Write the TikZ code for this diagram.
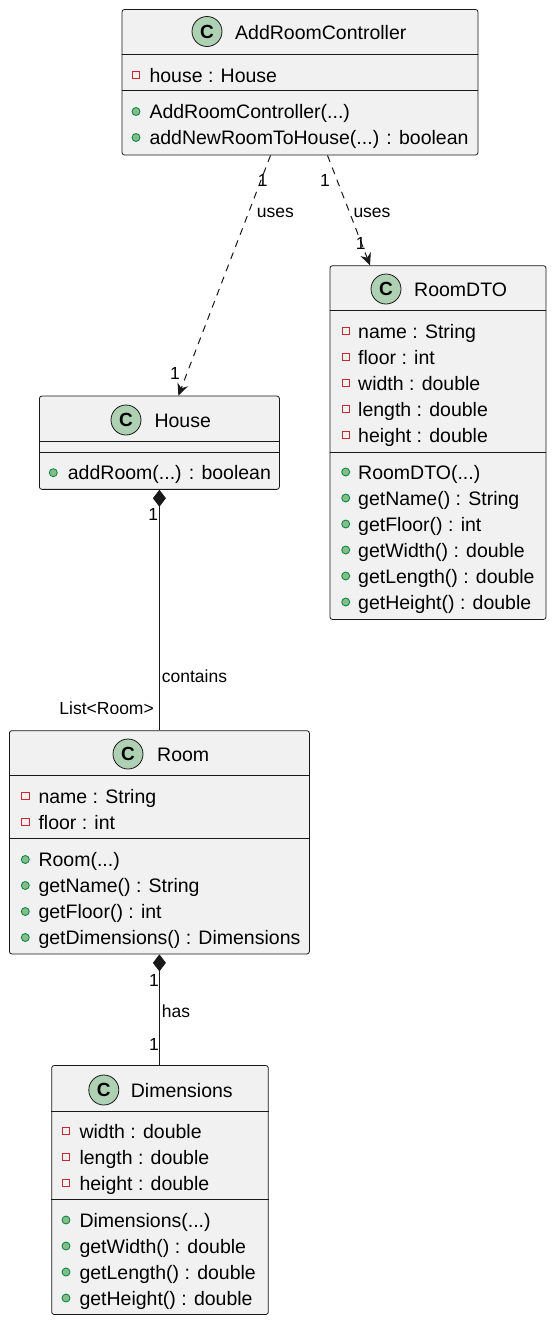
\documentclass[tikz,border=0pt]{standalone}
\usepackage{fontspec}
\setmainfont{Liberation Sans}
\usepackage{xcolor}
\usetikzlibrary{arrows.meta, calc, positioning}

\definecolor{boxfill}{HTML}{F1F1F1}
\definecolor{boxline}{HTML}{181818}
\definecolor{circfill}{HTML}{ADD1B2}
\definecolor{privred}{HTML}{C82930}
\definecolor{pubfill}{HTML}{84BE84}
\definecolor{publine}{HTML}{038048}

\newcommand{\membfont}{\fontsize{19.5}{23}\selectfont}
\newcommand{\lblfont}{\fontsize{17.5}{21}\selectfont}

\tikzset{
    classbox/.style={rectangle, draw=boxline, fill=boxfill, line width=0.8pt, rounded corners=2.5pt, inner sep=0pt},
    cicon/.style={circle, draw=boxline, fill=circfill, line width=0.8pt, minimum size=30pt, inner sep=0pt, font=\fontsize{19}{19}\selectfont\bfseries},
    member/.style={anchor=base west, inner sep=0pt, font=\membfont, text=black},
    priv/.style={rectangle, draw=privred, fill=boxfill, line width=0.8pt, minimum size=7.5pt, inner sep=0pt},
    pub/.style={circle, draw=publine, fill=pubfill, line width=0.8pt, minimum size=8pt, inner sep=0pt},
    lbl/.style={anchor=base, inner sep=0pt, font=\lblfont},
    sepline/.style={draw=boxline, line width=0.8pt},
    dep/.style={draw=boxline, line width=1pt, dash pattern=on 7pt off 6pt, -{Stealth[length=12pt, width=11pt, inset=4pt]}},
    comp/.style={draw=boxline, line width=1pt, {Diamond[length=17pt, width=13pt]}-}
}

\begin{document}
\begin{tikzpicture}[x=1pt, y=-1pt]
    \useasboundingbox (0,0) rectangle (555,1323);

    % AddRoomController
    \node[classbox, minimum width=356pt, minimum height=145.5pt] (arc) at (300,82.25) {};
    \node[cicon] (arcC) at (207,31.5) {C};
    \node[member] (arcT) at (235,39) {AddRoomController};
    \draw[sepline] (arc.west |- 0,54) -- (arc.east |- 0,54);
    \draw[sepline] (arc.west |- 0,90.7) -- (arc.east |- 0,90.7);
    \node[priv] (arcI1) at (136,75) {};
    \node[member] (arcA1) at (149.3,82) {house : House};
    \node[pub] (arcI2) at (136,111.5) {};
    \node[member] (arcM1) at (149.3,118.5) {AddRoomController(...)};
    \node[pub] (arcI3) at (136,137.5) {};
    \node[member] (arcM2) at (149.3,144.5) {addNewRoomToHouse(...) : boolean};

    % RoomDTO
    \node[classbox, minimum width=216pt, minimum height=353.8pt] (dto) at (438,442.6) {};
    \node[cicon] (dtoC) at (386,289) {C};
    \node[member] (dtoT) at (414,296) {RoomDTO};
    \draw[sepline] (dto.west |- 0,310.7) -- (dto.east |- 0,310.7);
    \draw[sepline] (dto.west |- 0,452) -- (dto.east |- 0,452);
    \node[priv] (dtoI1) at (345.7,331) {};
    \node[member] (dtoA1) at (358,338) {name : String};
    \node[priv] (dtoI2) at (345.7,357) {};
    \node[member] (dtoA2) at (358,364) {floor : int};
    \node[priv] (dtoI3) at (345.7,383) {};
    \node[member] (dtoA3) at (358,390) {width : double};
    \node[priv] (dtoI4) at (345.7,409) {};
    \node[member] (dtoA4) at (358,416) {length : double};
    \node[priv] (dtoI5) at (345.7,435) {};
    \node[member] (dtoA5) at (358,442) {height : double};
    \node[pub] (dtoI6) at (345.7,472) {};
    \node[member] (dtoM1) at (358,479) {RoomDTO(...)};
    \node[pub] (dtoI7) at (345.7,498) {};
    \node[member] (dtoM2) at (358,505) {getName() : String};
    \node[pub] (dtoI8) at (345.7,524) {};
    \node[member] (dtoM3) at (358,531) {getFloor() : int};
    \node[pub] (dtoI9) at (345.7,550) {};
    \node[member] (dtoM4) at (358,557) {getWidth() : double};
    \node[pub] (dtoI10) at (345.7,576) {};
    \node[member] (dtoM5) at (358,583) {getLength() : double};
    \node[pub] (dtoI11) at (345.7,602) {};
    \node[member] (dtoM6) at (358,609) {getHeight() : double};

    % House
    \node[classbox, minimum width=240pt, minimum height=93.3pt] (house) at (159.4,442.7) {};
    \node[cicon] (houseC) at (126,420) {C};
    \node[member] (houseT) at (154.3,427) {House};
    \draw[sepline] (house.west |- 0,441.7) -- (house.east |- 0,441.7);
    \draw[sepline] (house.west |- 0,452.3) -- (house.east |- 0,452.3);
    \node[pub] (houseI1) at (53.3,472.7) {};
    \node[member] (houseM1) at (67.7,479.7) {addRoom(...) : boolean};

    % Room
    \node[classbox, minimum width=300pt, minimum height=223.3pt] (room) at (159.4,842.3) {};
    \node[cicon] (roomC) at (128,754) {C};
    \node[member] (roomT) at (157,761) {Room};
    \draw[sepline] (room.west |- 0,775.7) -- (room.east |- 0,775.7);
    \draw[sepline] (room.west |- 0,838.3) -- (room.east |- 0,838.3);
    \node[priv] (roomI1) at (25.3,796) {};
    \node[member] (roomA1) at (38.3,803) {name : String};
    \node[priv] (roomI2) at (25.3,822) {};
    \node[member] (roomA2) at (38.3,829) {floor : int};
    \node[pub] (roomI3) at (25.3,859.5) {};
    \node[member] (roomM1) at (38.3,866.5) {Room(...)};
    \node[pub] (roomI4) at (25.3,885.5) {};
    \node[member] (roomM2) at (38.3,892.5) {getName() : String};
    \node[pub] (roomI5) at (25.3,911.5) {};
    \node[member] (roomM3) at (38.3,918.5) {getFloor() : int};
    \node[pub] (roomI6) at (25.3,937.5) {};
    \node[member] (roomM4) at (38.3,944.5) {getDimensions() : Dimensions};

    % Dimensions
    \node[classbox, minimum width=216.6pt, minimum height=249pt] (dims) at (160,1190) {};
    \node[cicon] (dimsC) at (103.8,1090) {C};
    \node[member] (dimsT) at (130.7,1097) {Dimensions};
    \draw[sepline] (dims.west |- 0,1111) -- (dims.east |- 0,1111);
    \draw[sepline] (dims.west |- 0,1199.3) -- (dims.east |- 0,1199.3);
    \node[priv] (dimsI1) at (66,1131) {};
    \node[member] (dimsA1) at (79.3,1138) {width : double};
    \node[priv] (dimsI2) at (66,1157) {};
    \node[member] (dimsA2) at (79.3,1164) {length : double};
    \node[priv] (dimsI3) at (66,1183) {};
    \node[member] (dimsA3) at (79.3,1190) {height : double};
    \node[pub] (dimsI4) at (66,1220) {};
    \node[member] (dimsM1) at (79.3,1227) {Dimensions(...)};
    \node[pub] (dimsI5) at (66,1246) {};
    \node[member] (dimsM2) at (79.3,1253) {getWidth() : double};
    \node[pub] (dimsI6) at (66,1272) {};
    \node[member] (dimsM3) at (79.3,1279) {getLength() : double};
    \node[pub] (dimsI7) at (66,1298) {};
    \node[member] (dimsM4) at (79.3,1305) {getHeight() : double};

    % connectors
    \draw[dep] ([xshift=-29.5pt]arc.south) -- ([xshift=19pt]house.north);
    \draw[dep] ([xshift=27.5pt]arc.south) -- ([xshift=-68pt]dto.north);
    \draw[comp] (house.south) -- (room.north);
    \draw[comp] (room.south) -- (room.south |- dims.north);

    % labels
    \node[lbl] (l1) at (262.7,186.5) {1};
    \node[lbl, anchor=base west] (l2) at (256.7,217.5) {uses};
    \node[lbl] (l3) at (325,186.5) {1};
    \node[lbl, anchor=base west] (l4) at (353.3,217.5) {uses};
    \node[lbl] (l5) at (360.7,249.8) {1};
    \node[lbl] (l6) at (175,379.8) {1};
    \node[lbl] (l7) at (153.3,520.8) {1};
    \node[lbl, anchor=base west] (l8) at (161.7,682.5) {contains};
    \node[lbl, anchor=base east] (l9) at (154,714.3) {List<Room>};
    \node[lbl] (l10) at (154,986.5) {1};
    \node[lbl, anchor=base west] (l11) at (161.7,1017.5) {has};
    \node[lbl] (l12) at (154,1050.5) {1};
\end{tikzpicture}
\end{document}
